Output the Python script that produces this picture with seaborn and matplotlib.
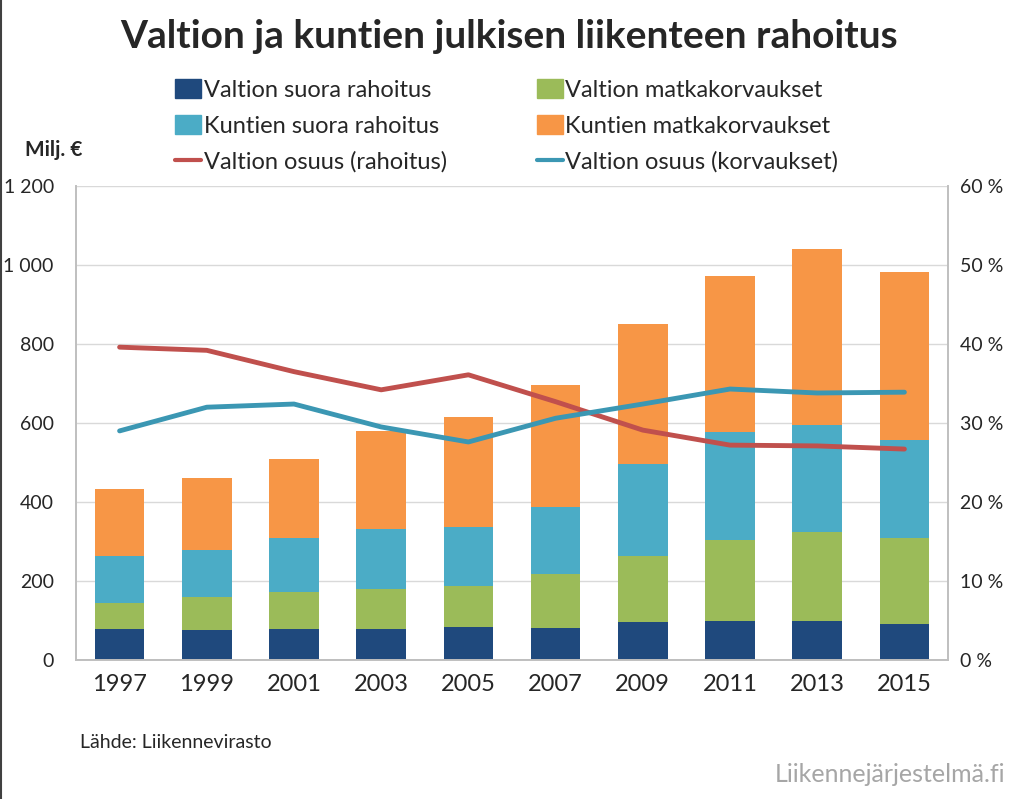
import matplotlib
matplotlib.use('Agg')
import matplotlib.pyplot as plt
import seaborn as sns
import pandas as pd
import numpy as np
from matplotlib.patches import Patch
from matplotlib.lines import Line2D

# data (Milj. € and %)
vuodet = ['1997', '1999', '2001', '2003', '2005', '2007', '2009', '2011', '2013', '2015']
valtion_suora = [78, 76, 78, 78, 83, 81, 95, 100, 98, 90]
valtion_korv = [67, 84, 94, 102, 105, 136, 168, 205, 227, 219]
kuntien_suora = [119, 118, 136, 151, 149, 171, 233, 271, 269, 248]
kuntien_korv = [168, 182, 200, 249, 277, 308, 355, 397, 446, 425]
osuus_rahoitus = [39.6, 39.2, 36.5, 34.2, 36.1, 32.7, 29.1, 27.2, 27.1, 26.7]
osuus_korvaukset = [29.0, 32.0, 32.4, 29.5, 27.6, 30.6, 32.4, 34.3, 33.8, 33.9]

nimet = ['Valtion suora rahoitus', 'Valtion matkakorvaukset', 'Kuntien suora rahoitus',
         'Kuntien matkakorvaukset', 'Valtion osuus (rahoitus)', 'Valtion osuus (korvaukset)']
varit = ['#1f497d', '#9bbb59', '#4bacc6', '#f79646', '#c0504d', '#3b97b3']

df = pd.DataFrame({'vuosi': vuodet, 's1': valtion_suora, 's2': valtion_korv,
                   's3': kuntien_suora, 's4': kuntien_korv})
df['c1'] = df['s1']
df['c2'] = df['c1'] + df['s2']
df['c3'] = df['c2'] + df['s3']
df['c4'] = df['c3'] + df['s4']

sns.set_theme(style='white')
plt.rcParams['font.family'] = ['Lato', 'DejaVu Sans']

fig = plt.figure(figsize=(10.18, 7.99), dpi=100)
ax = fig.add_axes([76/1018, 1-660/799, 872/1018, 474/799])

# stacked bars: draw the cumulative totals tallest first
for col, c in zip(['c4', 'c3', 'c2', 'c1'], [varit[3], varit[2], varit[1], varit[0]]):
    sns.barplot(data=df, x='vuosi', y=col, color=c, saturation=1, width=0.57,
                edgecolor='none', linewidth=0, ax=ax, zorder=2)

ax.set_xlim(-0.5, 9.5)
ax.set_ylim(0, 1200)
ax.set_yticks(range(0, 1201, 200))
ax.set_yticklabels([f'{v:,}'.replace(',', ' ') for v in range(0, 1201, 200)])
ax.yaxis.grid(True, color='#d9d9d9', lw=1)
ax.set_axisbelow(True)
ax.set_xlabel('')
ax.set_ylabel('')
ax.tick_params(axis='x', labelsize=17, length=0, pad=10)
ax.tick_params(axis='y', labelsize=14, length=0, pad=16)
for s in ['left', 'right', 'bottom']:
    ax.spines[s].set_color('#bfbfbf')
ax.spines['top'].set_visible(False)

ax2 = ax.twinx()
x = np.arange(len(vuodet))
sns.lineplot(x=x, y=osuus_rahoitus, color=varit[4], linewidth=3.5, ax=ax2)
sns.lineplot(x=x, y=osuus_korvaukset, color=varit[5], linewidth=3.5, ax=ax2)
ax2.set_ylim(0, 60)
ax2.set_yticks(range(0, 61, 10))
ax2.set_yticklabels([f'{v} %' for v in range(0, 61, 10)])
ax2.tick_params(axis='y', labelsize=14, length=0, pad=9)
ax2.grid(False)
for s in ['left', 'right', 'bottom']:
    ax2.spines[s].set_color('#bfbfbf')
ax2.spines['top'].set_visible(False)
ax2.set_xlim(-0.5, 9.5)

kahvat = [Patch(color=varit[0]), Patch(color=varit[2]), Line2D([], [], color=varit[4], lw=3),
          Patch(color=varit[1]), Patch(color=varit[3]), Line2D([], [], color=varit[5], lw=3)]
tekstit = [nimet[0], nimet[2], nimet[4], nimet[1], nimet[3], nimet[5]]
fig.legend(kahvat, tekstit, ncol=2, loc='upper left', bbox_to_anchor=(166/1018, 1-70/799),
           frameon=False, fontsize=17, handlelength=1.1, handleheight=0.85, handletextpad=0.1,
           labelspacing=0.6, columnspacing=3.8, borderaxespad=0)

fig.text(0.5, 1-37/799, 'Valtion ja kuntien julkisen liikenteen rahoitus', ha='center',
         va='center', fontsize=28, fontweight='bold')
fig.text(25/1018, 1-150/799, 'Milj. €', fontsize=15, fontweight='bold', va='center')
fig.text(80/1018, 1-743/799, 'Lähde: Liikennevirasto', fontsize=14, va='center')
fig.text(1005/1018, 1-775/799, 'Liikennejärjestelmä.fi', fontsize=18, va='center',
         ha='right', color='#a6a6a6')
fig.add_artist(Line2D([0.001, 0.001], [0, 1], color='#404040', lw=1.5, transform=fig.transFigure))

fig.savefig('out.png', dpi=100)
